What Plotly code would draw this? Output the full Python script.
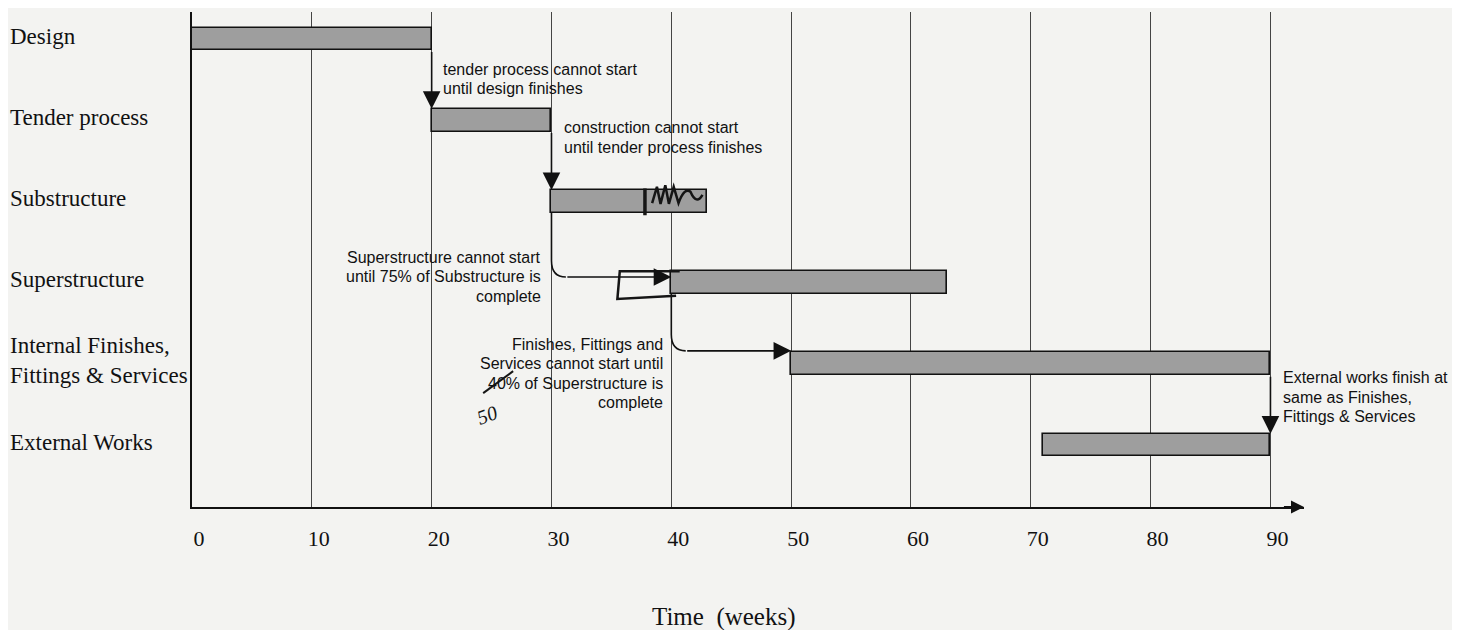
import plotly.graph_objects as go

# ---------------- data ----------------
tasks = ["Design", "Tender process", "Substructure", "Superstructure",
         "Internal Finishes,<br>Fittings & Services", "External Works"]
start = [0, 20, 30, 40, 50, 71]
finish = [20, 30, 43, 63, 90, 90]
x_ticks = [0, 10, 20, 30, 40, 50, 60, 70, 80, 90]

# dependency links: (from task, to task, kind)
links = [(0, 1, "fs"), (1, 2, "fs"), (2, 3, "ss"), (3, 4, "ss"), (4, 5, "ff")]

notes = [
    (["tender process cannot start", "until design finishes"], 20.75, 0.49, "left"),
    (["construction cannot start", "until tender process finishes"], 30.9, 1.21, "left"),
    (["Superstructure cannot start", "until 75% of Substructure is", "complete"], 29.3, 2.93, "right"),
    (["Finishes, Fittings and", "Services cannot start until", "40% of Superstructure is", "complete"],
     39.5, 4.12, "right"),
    (["External works finish at", "same as Finishes,", "Fittings & Services"], 90.9, 4.41, "left"),
]

# ---------------- figure ----------------
BW = 0.28
ypos = list(range(len(tasks)))
dur = [f - s for s, f in zip(start, finish)]
SERIF = "Liberation Serif, Times New Roman, serif"
SANS = "Liberation Sans, Arial, sans-serif"
LINE_H = 19.5

fig = go.Figure()
fig.add_trace(go.Bar(
    y=ypos, x=dur, base=start, orientation="h", width=BW,
    marker=dict(color="#9e9e9e", line=dict(color="#111", width=1.6)),
    hoverinfo="skip", showlegend=False,
))

shapes = []
ann = []

# category labels
for i, t in enumerate(tasks):
    ann.append(dict(xref="paper", yref="y", x=-0.1655, y=i, text=t, showarrow=False,
                    xanchor="left", yanchor="middle", align="left", yshift=3,
                    font=dict(family=SERIF, size=23, color="#111")))

H = BW / 2
AH = dict(showarrow=True, arrowhead=2, arrowsize=2.2, arrowwidth=1.6, arrowcolor="#111", text="")
for a, b, kind in links:
    if kind == "fs":
        x = finish[a]
        ann.append(dict(x=x, y=b - H, ax=x, ay=a + H, xref="x", yref="y", axref="x", ayref="y", **AH))
    elif kind == "ff":
        x = finish[b]
        ann.append(dict(x=x, y=b - H, ax=x, ay=a + H, xref="x", yref="y", axref="x", ayref="y", **AH))
    else:  # start-start with lag, curved elbow
        x0 = start[a]
        x1 = start[b]
        yh = b - 0.07 if b == 3 else b - H - 0.02
        r_x, r_y = 1.2, 0.2
        shapes.append(dict(type="path", xref="x", yref="y",
                           path=f"M {x0},{a + H} L {x0},{yh - r_y} Q {x0},{yh} {x0 + r_x},{yh}",
                           line=dict(color="#111", width=1.6)))
        ann.append(dict(x=x1, y=yh, ax=x0 + r_x, ay=yh, xref="x", yref="y", axref="x", ayref="y", **AH))

for lines, x, y, al in notes:
    n = len(lines)
    for k, line in enumerate(lines):
        ann.append(dict(x=x, y=y, xref="x", yref="y", text=line, showarrow=False,
                        xanchor=al, yanchor="middle", align=al,
                        yshift=((n - 1) / 2 - k) * LINE_H,
                        font=dict(family=SANS, size=16, color="#111")))

# hand-drawn marks
mk = dict(color="#151515", width=2.5)
shapes.append(dict(type="line", xref="x", yref="y", x0=37.8, x1=37.8, y0=2 - H - 0.02, y1=2 + H + 0.03,
                   line=dict(color="#151515", width=3.5)))
shapes.append(dict(type="path", xref="x", yref="y",
                   path="M 38.4,2.02 L 38.8,1.82 L 39.1,2.03 L 39.5,1.80 L 39.8,2.03 L 40.2,1.82 "
                        "L 40.6,2.02 Q 41.1,1.82 41.6,1.88 Q 42.1,2.05 42.6,1.92",
                   line=mk))
shapes.append(dict(type="path", xref="x", yref="y",
                   path="M 40.7,2.86 L 35.7,2.86 L 35.5,3.2 L 40.4,3.16",
                   line=mk))
shapes.append(dict(type="line", xref="x", yref="y", x0=24.3, x1=26.8, y0=4.36, y1=4.09,
                   line=dict(color="#151515", width=2)))
ann.append(dict(x=24.6, y=4.63, xref="x", yref="y", text="<i>50</i>", showarrow=False,
                textangle=-20, font=dict(family=SERIF, size=20, color="#151515")))

# axis arrow
ann.append(dict(x=92.8, y=0, ax=91.0, ay=0, xref="x", yref="y domain", axref="x", ayref="y domain",
                showarrow=True, arrowhead=2, arrowsize=1.3, arrowwidth=2, arrowcolor="#111", text=""))

# axis title
ann.append(dict(xref="paper", yref="paper", x=0.478, y=-0.222, text="Time\u00a0 (weeks)",
                showarrow=False, xanchor="center", yanchor="middle",
                font=dict(family=SERIF, size=25, color="#111")))

fig.update_layout(
    width=1452, height=622,
    margin=dict(l=184, r=156, t=4, b=123),
    paper_bgcolor="#f3f3f1", plot_bgcolor="#f3f3f1",
    shapes=shapes, annotations=ann, bargap=0,
    xaxis=dict(range=[0, 92.8], tickvals=x_ticks, ticktext=[str(v) for v in x_ticks],
               showgrid=True, gridcolor="#444", gridwidth=1, zeroline=False,
               showline=True, linecolor="#111", linewidth=2, ticks="",
               ticklabelstandoff=11, ticklabelshift=7,
               tickfont=dict(family=SERIF, size=22, color="#111")),
    yaxis=dict(range=[5.763, -0.333], showgrid=False, zeroline=False,
               showline=True, linecolor="#111", linewidth=2, showticklabels=False, ticks=""),
)

fig.write_html("out.html")
